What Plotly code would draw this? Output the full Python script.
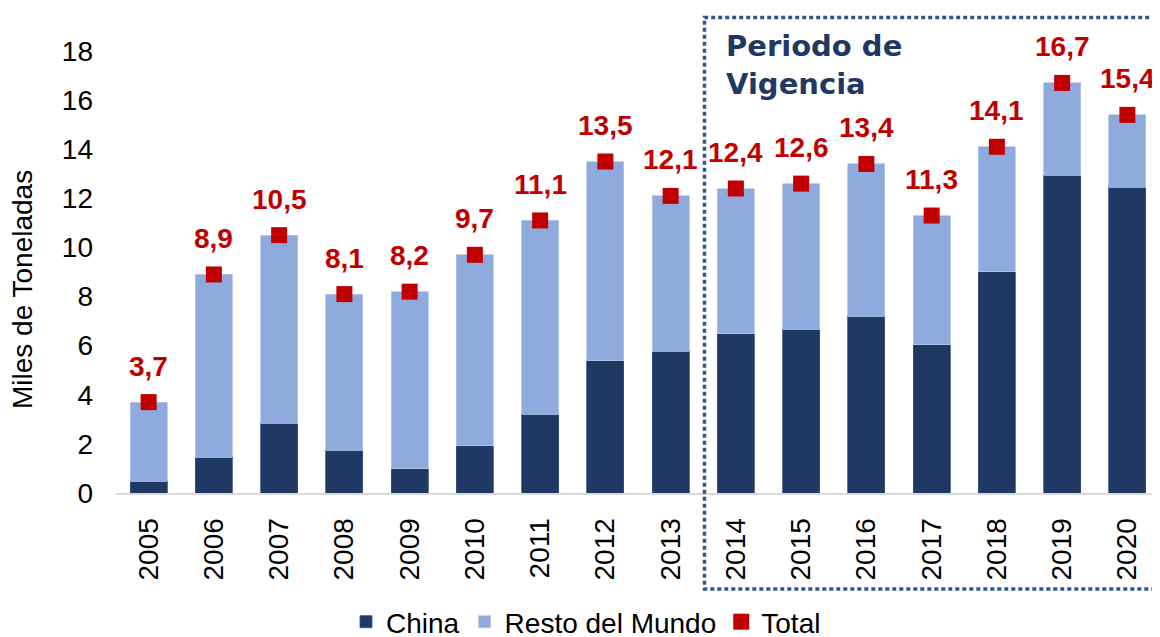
import plotly.graph_objects as go

years = ["2005", "2006", "2007", "2008", "2009", "2010", "2011", "2012",
         "2013", "2014", "2015", "2016", "2017", "2018", "2019", "2020"]
china = [0.48, 1.45, 2.85, 1.75, 0.99, 1.92, 3.21, 5.38,
         5.77, 6.48, 6.67, 7.20, 6.03, 9.01, 12.95, 12.46]
resto = [3.22, 7.45, 7.65, 6.35, 7.21, 7.78, 7.89, 8.12,
         6.33, 5.92, 5.93, 6.20, 5.27, 5.09, 3.75, 2.94]
total = [3.7, 8.9, 10.5, 8.1, 8.2, 9.7, 11.1, 13.5,
         12.1, 12.4, 12.6, 13.4, 11.3, 14.1, 16.7, 15.4]
y_ticks = [0, 2, 4, 6, 8, 10, 12, 14, 16, 18]

FONT = "Liberation Sans, Arial, sans-serif"
NAVY = "#203864"
LIGHT = "#8FAADC"
RED = "#C00000"

# page places the figure 8px from the top-left corner (body margin)
OFF = 8
W, H = 1160 - OFF, 637 - OFF
PL, PR, PT, PB = 116, 1160, 51, 493  # plot area in screen pixels
PW, PH = PR - PL, PB - PT


def xp(X):
    return (X - PL) / PW


def yp(Y):
    return (PB - Y) / PH


fig = go.Figure()
fig.add_trace(go.Bar(x=years, y=china, name="China",
                     marker=dict(color=NAVY, line=dict(width=0.8, color="#3A5280"))))
fig.add_trace(go.Bar(x=years, y=resto, name="Resto del Mundo",
                     marker=dict(color=LIGHT, line=dict(width=0.8, color="#B4C7E7"))))
fig.add_trace(go.Scatter(x=years, y=total, name="Total", mode="markers",
                         marker=dict(symbol="square", size=16, color=RED), cliponaxis=False))

annotations = []
for i, t in enumerate(total):
    annotations.append(dict(x=i, y=t, xref="x", yref="y", text=f"{t:.1f}".replace(".", ","),
                            showarrow=False, yshift=36, yanchor="middle", xanchor="center",
                            font=dict(family=FONT, size=28, color=RED, weight="bold")))

annotations.append(dict(x=0, y=yp(290), xref="paper", yref="paper", xshift=22 - PL,
                        text="Miles de Toneladas",
                        showarrow=False, textangle=-90, xanchor="center", yanchor="middle",
                        font=dict(family=FONT, size=28, color="#000000")))
annotations.append(dict(x=xp(724), y=yp(64.5), xref="paper", yref="paper",
                        text="Periodo de<br>Vigencia", showarrow=False, align="left",
                        xanchor="left", yanchor="middle",
                        font=dict(family="DejaVu Sans, Verdana, sans-serif", size=29,
                                  color="#1F3864", weight="bold")))

box_left = xp(704.5)
box_top = yp(17.5)
box_bottom = yp(589)
shapes = [dict(type="path", xref="paper", yref="paper",
               path=f"M 1.05 {box_top} L {box_left} {box_top} L {box_left} {box_bottom} L 1.05 {box_bottom}",
               line=dict(color="#2F5597", width=3.5, dash="4px,3px"), layer="above")]

fig.update_layout(
    width=W, height=H,
    margin=dict(l=PL - OFF, r=max(0, W - (PR - OFF)), t=PT - OFF, b=H - (PB - OFF), autoexpand=False),
    paper_bgcolor="white", plot_bgcolor="white",
    barmode="stack", bargap=0.43,
    font=dict(family=FONT, size=28, color="#000000"),
    showlegend=True,
    legend=dict(orientation="h", traceorder="normal", x=xp(586), xanchor="center",
                y=yp(622), yanchor="middle", font=dict(family=FONT, size=28),
                itemwidth=30, tracegroupgap=0, bgcolor="rgba(0,0,0,0)"),
    xaxis=dict(type="category", range=[-0.5, 15.5], tickangle=-90, showgrid=False,
               showline=True, linecolor="#D9D9D9", linewidth=2, ticks="", automargin=False,
               ticklabelstandoff=12, tickfont=dict(family=FONT, size=28)),
    yaxis=dict(range=[0, 18], tickvals=y_ticks, showgrid=False, zeroline=False, showline=False,
               ticks="", ticklabelstandoff=22, automargin=False, tickfont=dict(family=FONT, size=28)),
    annotations=annotations,
    shapes=shapes,
)

fig.write_html("out.html")
